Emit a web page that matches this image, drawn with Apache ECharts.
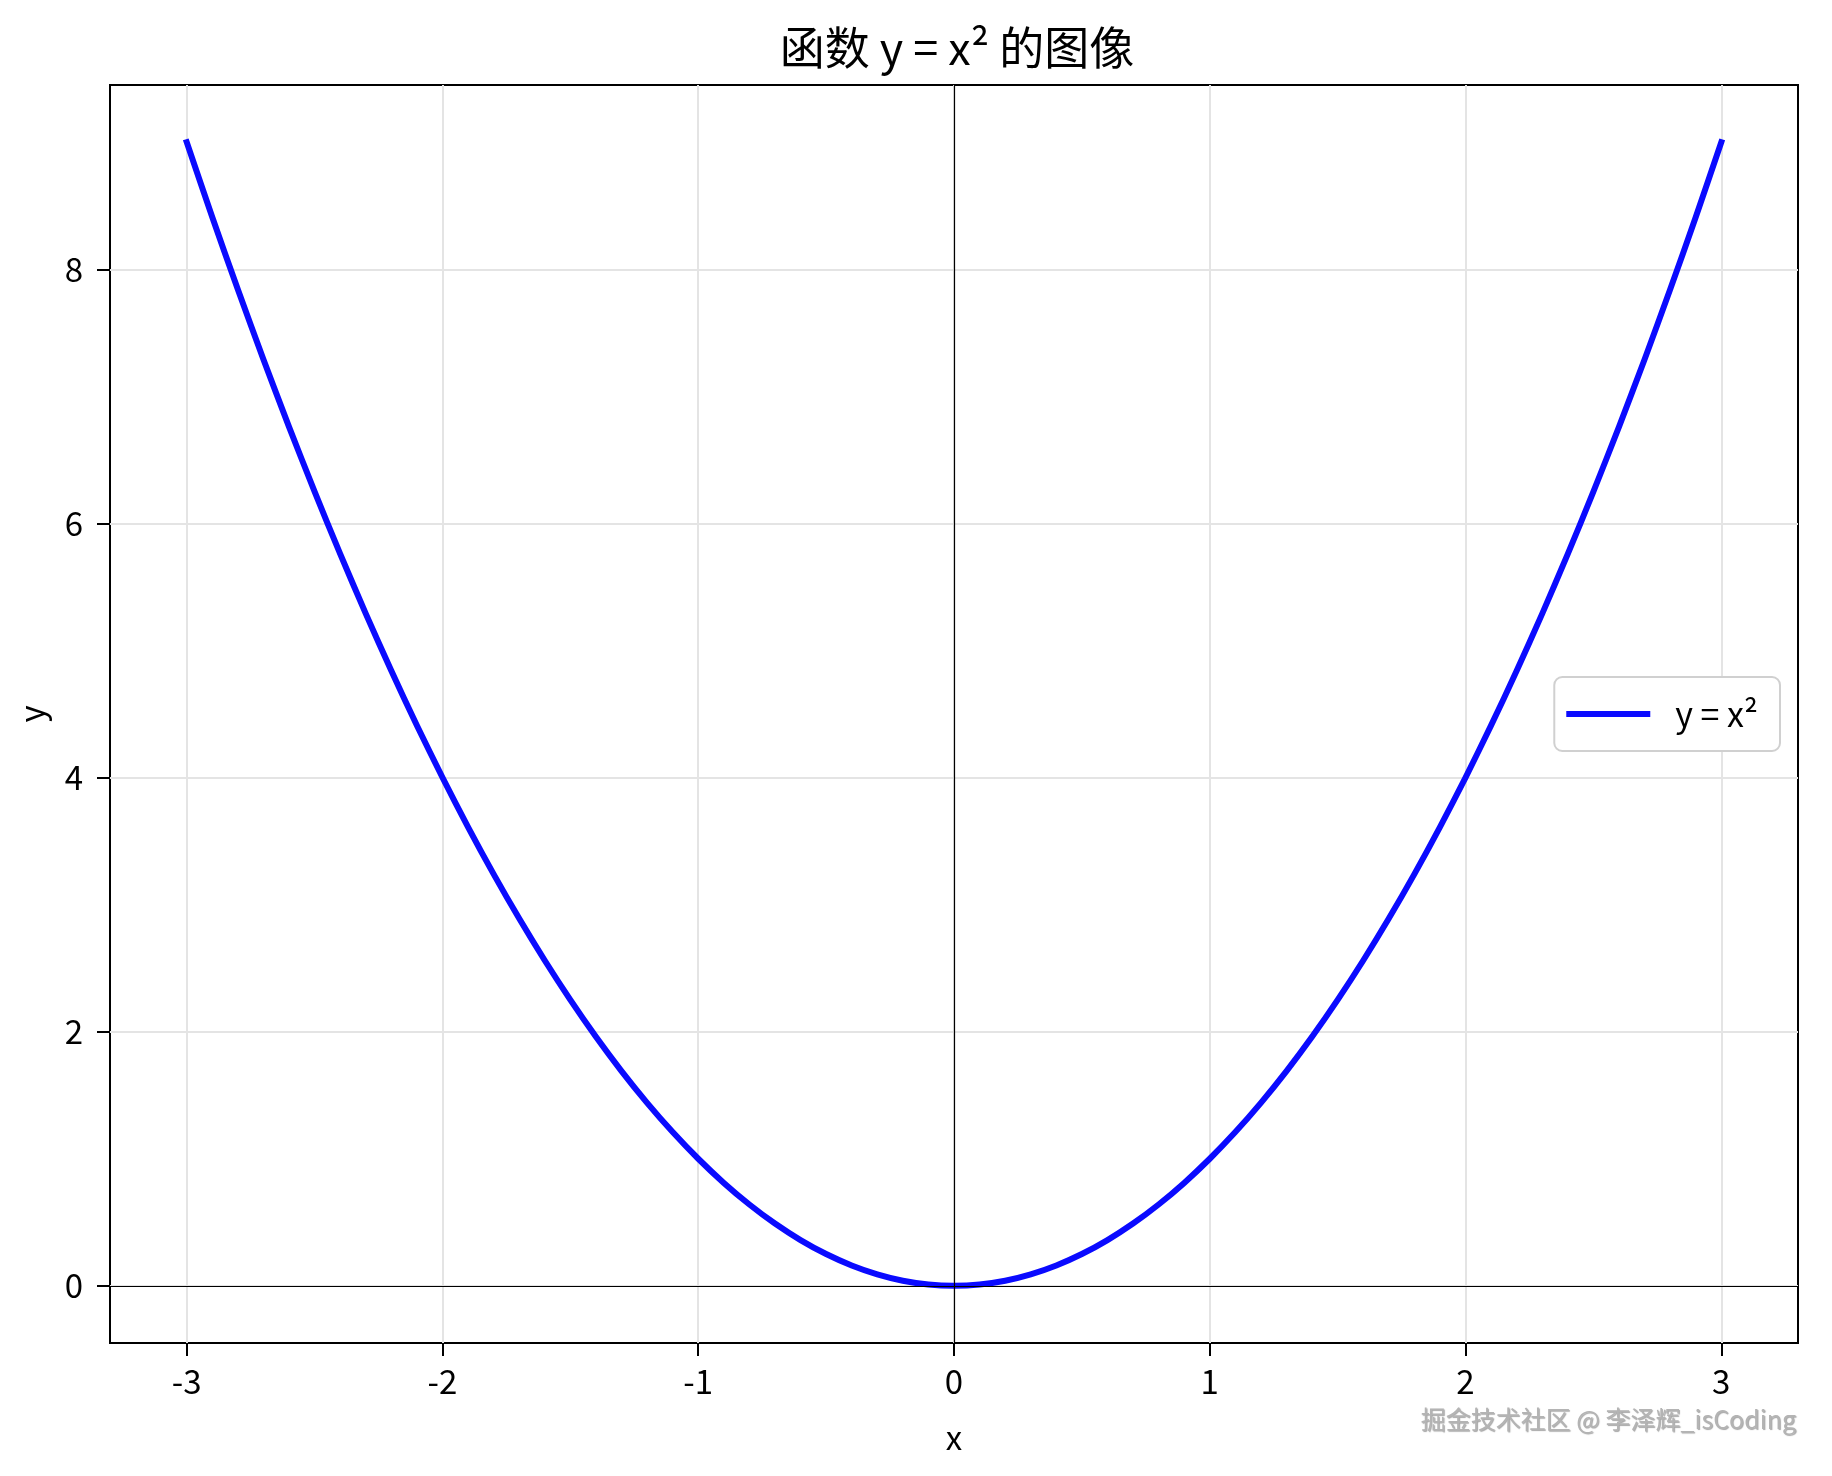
<!DOCTYPE html>
<html>
<head>
<meta charset="utf-8">
<script src="https://cdn.jsdelivr.net/npm/echarts@6/dist/echarts.min.js"></script>
<style>
html,body{margin:0;padding:0;background:#fff;}
#chart{width:1832px;height:1476px;}
</style>
</head>
<body>
<div id="chart"></div>
<script>
var xValues = [-3.0,-2.9,-2.8,-2.7,-2.6,-2.5,-2.4,-2.3,-2.2,-2.1,-2.0,-1.9,-1.8,-1.7,-1.6,-1.5,-1.4,-1.3,-1.2,-1.1,-1.0,-0.9,-0.8,-0.7,-0.6,-0.5,-0.4,-0.3,-0.2,-0.1,0.0,0.1,0.2,0.3,0.4,0.5,0.6,0.7,0.8,0.9,1.0,1.1,1.2,1.3,1.4,1.5,1.6,1.7,1.8,1.9,2.0,2.1,2.2,2.3,2.4,2.5,2.6,2.7,2.8,2.9,3.0];
var yValues = [9.0,8.41,7.84,7.29,6.76,6.25,5.76,5.29,4.84,4.41,4.0,3.61,3.24,2.89,2.56,2.25,1.96,1.69,1.44,1.21,1.0,0.81,0.64,0.49,0.36,0.25,0.16,0.09,0.04,0.01,0.0,0.01,0.04,0.09,0.16,0.25,0.36,0.49,0.64,0.81,1.0,1.21,1.44,1.69,1.96,2.25,2.56,2.89,3.24,3.61,4.0,4.41,4.84,5.29,5.76,6.25,6.76,7.29,7.84,8.41,9.0];
var xTicks = [-3,-2,-1,0,1,2,3];
var yTicks = [0,2,4,6,8];
var titleText = '函数 y = x² 的图像';
var seriesName = 'y = x²';
var xName = 'x';
var yName = 'y';
var watermark = '掘金技术社区 @ 李泽辉_isCoding';

var FONT = '"Noto Sans CJK SC", "Noto Sans", sans-serif';
var chart = echarts.init(document.getElementById('chart'), null, {renderer:'canvas'});

var points = xValues.map(function(x,i){return [x, yValues[i]];});
var gridMarks = [];
xTicks.forEach(function(v){gridMarks.push({xAxis:v});});
yTicks.forEach(function(v){gridMarks.push({yAxis:v});});

var option = {
  backgroundColor:'#ffffff',
  animation:false,
  title:{
    text:titleText, left:952, top:20, textAlign:'center',
    textStyle:{fontFamily:FONT, fontSize:45, fontWeight:'normal', color:'#000'}
  },
  grid:{left:110, top:85, right:34, bottom:133, show:true, borderColor:'#000', borderWidth:2, backgroundColor:'transparent'},
  xAxis:{
    type:'value', min:-3.3, max:3.3,
    name:xName, nameLocation:'middle', nameGap:78,
    nameTextStyle:{fontFamily:FONT, fontSize:33, color:'#000'},
    axisLine:{show:true, onZero:false, lineStyle:{color:'#000', width:2}},
    axisTick:{show:true, customValues:xTicks, length:13, lineStyle:{color:'#000', width:2}},
    axisLabel:{customValues:xTicks, margin:22, fontFamily:FONT, fontSize:33, color:'#000',
      formatter:function(v){return String(v);}},
    splitLine:{show:false}
  },
  yAxis:{
    type:'value', min:-0.45, max:9.45,
    name:yName, nameLocation:'middle', nameGap:62, nameRotate:90,
    nameTextStyle:{fontFamily:FONT, fontSize:33, color:'#000'},
    axisLine:{show:true, onZero:false, lineStyle:{color:'#000', width:2}},
    axisTick:{show:true, customValues:yTicks, length:13, lineStyle:{color:'#000', width:2}},
    axisLabel:{customValues:yTicks, margin:27, fontFamily:FONT, fontSize:33, color:'#000',
      formatter:function(v){return String(v);}},
    splitLine:{show:false}
  },
  legend:{
    show:true, right:52, top:677,
    orient:'vertical',
    padding:[20,22,20,12],
    backgroundColor:'#fff',
    borderColor:'#d0d0d0', borderWidth:2, borderRadius:8,
    itemWidth:84, itemHeight:6, icon:'rect',
    textStyle:{fontFamily:FONT, fontSize:34, color:'#000', padding:[0,0,0,20]},
    data:[seriesName]
  },
  series:[
    {
      type:'line', name:'grid', data:[], silent:true, z:1,
      markLine:{silent:true, z:1, symbol:'none', label:{show:false}, animation:false,
        lineStyle:{color:'#e4e4e4', width:2, type:'solid'},
        data:gridMarks}
    },
    {
      type:'line', name:seriesName, data:points, showSymbol:false, symbol:'none',
      smooth:0.25, z:3,
      color:'#0a0aff',
      lineStyle:{color:'#0a0aff', width:6, cap:'square', join:'round'}
    },
    {
      type:'line', name:'zero', data:[], silent:true, z:5,
      markLine:{silent:true, z:10, symbol:'none', label:{show:false}, animation:false,
        lineStyle:{color:'#000', width:1.2, type:'solid'},
        data:[{xAxis:0},{yAxis:0}]}
    }
  ],
  graphic:[
    {type:'text', right:36, top:1407, z:100,
      style:{text:watermark, fontFamily:FONT, fontSize:25, fill:'#b4b4b4', textAlign:'right',
        textShadowColor:'rgba(0,0,0,0.35)', textShadowBlur:1, textShadowOffsetX:1, textShadowOffsetY:1}}
  ]
};
chart.setOption(option);
</script>
</body>
</html>
